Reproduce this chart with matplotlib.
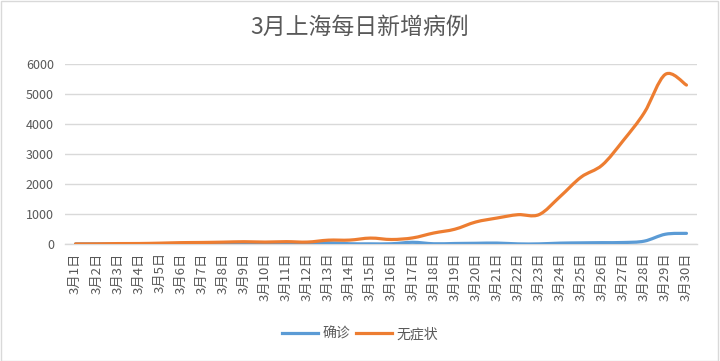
import matplotlib
matplotlib.use("Agg")
import matplotlib.pyplot as plt
from matplotlib.path import Path
from matplotlib.patches import PathPatch, Rectangle
from matplotlib.lines import Line2D
import numpy as np

plt.rcParams['font.family'] = ['Noto Sans CJK SC', 'DejaVu Sans']

days = [f"3月{d}日" for d in range(1, 31)]
confirmed = [2, 3, 2, 3, 0, 3, 4, 3, 4, 11, 5, 1, 41, 9, 5, 8, 57, 8, 17, 24,
             31, 4, 4, 29, 38, 45, 50, 96, 326, 355]
asymptomatic = [3, 5, 14, 16, 28, 45, 51, 62, 76, 64, 78, 64, 128, 130, 197, 150,
                203, 366, 492, 734, 865, 977, 979, 1580, 2231, 2631, 3450, 4381,
                5656, 5298]
series_names = ["确诊", "无症状"]
colors = ["#5B9BD5", "#ED7D31"]
title = "3月上海每日新增病例"
yticks = [0, 1000, 2000, 3000, 4000, 5000, 6000]

TXT = "#595959"


def smooth_path(xs, ys, t=1/6):
    xs = np.asarray(xs, float)
    ys = np.asarray(ys, float)
    n = len(xs)
    verts = [(xs[0], ys[0])]
    codes = [Path.MOVETO]
    for i in range(n - 1):
        p0 = (xs[max(i - 1, 0)], ys[max(i - 1, 0)])
        p1 = (xs[i], ys[i])
        p2 = (xs[i + 1], ys[i + 1])
        p3 = (xs[min(i + 2, n - 1)], ys[min(i + 2, n - 1)])
        c1 = (p1[0] + (p2[0] - p0[0]) * t, p1[1] + (p2[1] - p0[1]) * t)
        c2 = (p2[0] - (p3[0] - p1[0]) * t, p2[1] - (p3[1] - p1[1]) * t)
        verts += [c1, c2, p2]
        codes += [Path.CURVE4] * 3
    return Path(verts, codes)


fig = plt.figure(figsize=(7.2, 3.61), dpi=100)
ax = fig.add_axes([65 / 720, 1 - 244 / 361, 632 / 720, 180 / 361])

x = np.arange(len(days))
for vals, c, name in zip([confirmed, asymptomatic], colors, series_names):
    patch = PathPatch(smooth_path(x, vals), facecolor='none', edgecolor=c,
                      linewidth=2.3, capstyle='round', joinstyle='round', zorder=3)
    ax.add_patch(patch)

ax.set_xlim(-0.5, len(days) - 0.5)
ax.set_ylim(0, 6000)
ax.set_yticks(yticks)
ax.set_yticklabels([str(v) for v in yticks], color=TXT, fontsize=9)
ax.set_xticks(x)
ax.set_xticklabels(days, rotation=90, color=TXT, fontsize=9.5)
ax.tick_params(axis='both', length=0, pad=8)
ax.tick_params(axis='x', pad=6)
ax.grid(axis='y', color='#D9D9D9', linewidth=1)
ax.set_axisbelow(True)
for s in ['top', 'right', 'left']:
    ax.spines[s].set_visible(False)
ax.spines['bottom'].set_color('#D9D9D9')
ax.spines['bottom'].set_linewidth(1)

fig.text(0.5, 1 - 27 / 361, title, ha='center', va='center', fontsize=16.5, color=TXT)

handles = [Line2D([0], [0], color=c, lw=2.3) for c in colors]
fig.legend(handles, series_names, loc='center', bbox_to_anchor=(360 / 720, 1 - 334 / 361),
           ncol=2, frameon=False, fontsize=10, labelcolor=TXT, handlelength=2.6,
           handletextpad=0.3, columnspacing=0.4)

fig.patches.append(Rectangle((0.5 / 720, 0.5 / 361), 717 / 720, 359.5 / 361,
                             transform=fig.transFigure, fill=False,
                             edgecolor='#D9D9D9', linewidth=1))

fig.savefig("out.png", dpi=100, facecolor='white')
